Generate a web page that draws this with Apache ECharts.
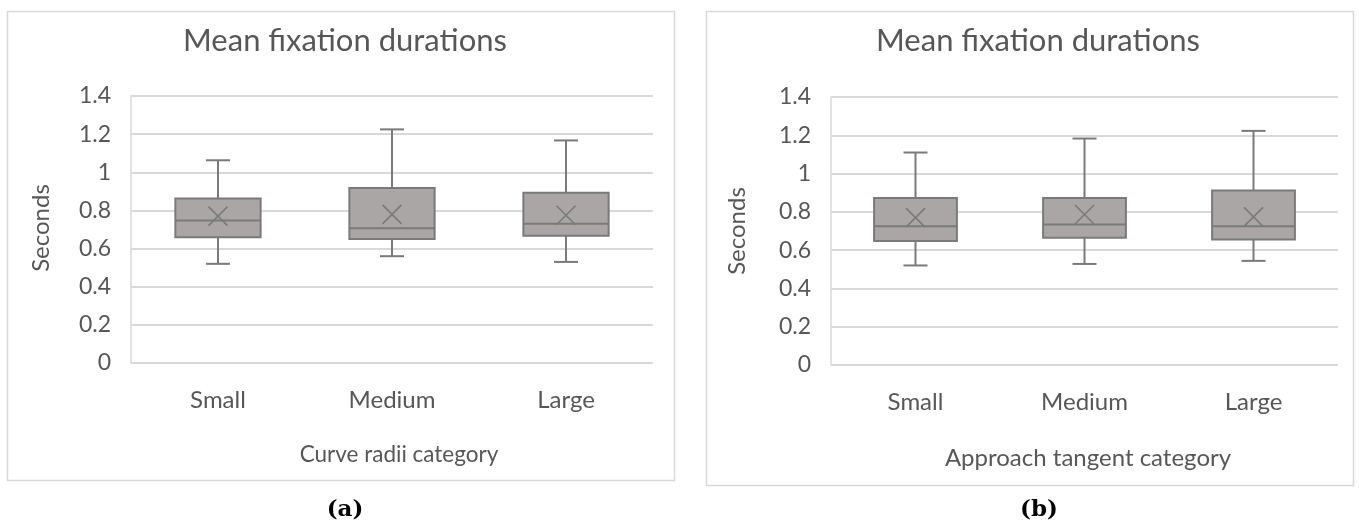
<!DOCTYPE html>
<html>
<head>
<meta charset="utf-8">
<script src="https://cdn.jsdelivr.net/npm/echarts@6/dist/echarts.min.js"></script>
<style>
html,body{margin:0;padding:0;background:#fff;}
#chart{width:1359px;height:527px;}
</style>
</head>
<body>
<div id="chart"></div>
<script>
// ---- data ----
var categories = ['Small', 'Medium', 'Large'];

var radiiMin    = [0.520, 0.560, 0.530];
var radiiQ1     = [0.660, 0.650, 0.667];
var radiiMedian = [0.747, 0.707, 0.730];
var radiiQ3     = [0.863, 0.917, 0.893];
var radiiMax    = [1.063, 1.225, 1.167];
var radiiMean   = [0.770, 0.779, 0.775];

var tangentMin    = [0.520, 0.528, 0.544];
var tangentQ1     = [0.648, 0.665, 0.656];
var tangentMedian = [0.725, 0.734, 0.725];
var tangentQ3     = [0.872, 0.872, 0.912];
var tangentMax    = [1.110, 1.183, 1.223];
var tangentMean   = [0.770, 0.786, 0.774];

var yMin = 0, yMax = 1.4, yInterval = 0.2;
var chartTitles = ['Mean fixation durations', 'Mean fixation durations'];
var xAxisNames = ['Curve radii category', 'Approach tangent category'];
var yAxisName = 'Seconds';
var captions = ['a', 'b'];

// ---- build ----
function rows(mn, q1, md, q3, mx, mean) {
  return categories.map(function (c, i) {
    return [i, mn[i], q1[i], md[i], q3[i], mx[i], mean[i]];
  });
}
var dataA = rows(radiiMin, radiiQ1, radiiMedian, radiiQ3, radiiMax, radiiMean);
var dataB = rows(tangentMin, tangentQ1, tangentMedian, tangentQ3, tangentMax, tangentMean);

var TEXT = '#575757';
var GRID = '#d9d9d9';
var BOX_FILL = '#aba6a6';
var BOX_LINE = '#7a7a7a';
var FONT = 'Lato';

function renderBox(params, api) {
  var x = api.value(0);
  var band = api.size([1, 0])[0];
  var bw = band * 0.49;
  var cap = 24;
  var pMin = api.coord([x, api.value(1)]);
  var pQ1 = api.coord([x, api.value(2)]);
  var pMd = api.coord([x, api.value(3)]);
  var pQ3 = api.coord([x, api.value(4)]);
  var pMax = api.coord([x, api.value(5)]);
  var pMean = api.coord([x, api.value(6)]);
  var cx = pMd[0];
  var ls = {stroke: BOX_LINE, lineWidth: 2};
  var h = 9.5;
  return {
    type: 'group',
    children: [
      {type: 'line', shape: {x1: cx, y1: pMax[1], x2: cx, y2: pQ3[1]}, style: ls},
      {type: 'line', shape: {x1: cx - cap / 2, y1: pMax[1], x2: cx + cap / 2, y2: pMax[1]}, style: ls},
      {type: 'line', shape: {x1: cx, y1: pQ1[1], x2: cx, y2: pMin[1]}, style: ls},
      {type: 'line', shape: {x1: cx - cap / 2, y1: pMin[1], x2: cx + cap / 2, y2: pMin[1]}, style: ls},
      {type: 'rect', shape: {x: cx - bw / 2, y: pQ3[1], width: bw, height: pQ1[1] - pQ3[1]},
        style: {fill: BOX_FILL, stroke: BOX_LINE, lineWidth: 2}},
      {type: 'line', shape: {x1: cx - bw / 2, y1: pMd[1], x2: cx + bw / 2, y2: pMd[1]}, style: ls},
      {type: 'line', shape: {x1: cx - h, y1: pMean[1] - h, x2: cx + h, y2: pMean[1] + h}, style: {stroke: BOX_LINE, lineWidth: 1.6}},
      {type: 'line', shape: {x1: cx - h, y1: pMean[1] + h, x2: cx + h, y2: pMean[1] - h}, style: {stroke: BOX_LINE, lineWidth: 1.6}}
    ]
  };
}

var grids = [
  {left: 131, top: 96, width: 522, height: 267},
  {left: 831, top: 97, width: 507, height: 268}
];

function xAxis(i) {
  return {
    type: 'category', gridIndex: i, data: categories,
    axisLine: {show: false}, axisTick: {show: false},
    axisLabel: {color: TEXT, fontFamily: FONT, fontSize: 24, margin: 25},
    splitLine: {show: false}
  };
}
function yAxis(i) {
  return {
    type: 'value', gridIndex: i, min: yMin, max: yMax, interval: yInterval,
    axisLine: {show: true, lineStyle: {color: GRID, width: 1.5}},
    axisTick: {show: false},
    axisLabel: {color: TEXT, fontFamily: FONT, fontSize: 23, margin: 20},
    splitLine: {show: true, lineStyle: {color: GRID, width: 2}}
  };
}

var capRich = {
  p: {fontFamily: 'DejaVu Serif', fontSize: 23, color: '#000'},
  b: {fontFamily: 'DejaVu Serif', fontSize: 23, fontWeight: 'bold', color: '#000'}
};

var option = {
  backgroundColor: '#ffffff',
  animation: false,
  textStyle: {fontFamily: FONT},
  grid: grids,
  xAxis: [xAxis(0), xAxis(1)],
  yAxis: [yAxis(0), yAxis(1)],
  title: [
    {text: chartTitles[0], left: 340, top: 20, textAlign: 'center',
      textStyle: {color: TEXT, fontFamily: FONT, fontSize: 31, fontWeight: 'normal'}},
    {text: chartTitles[1], left: 1033, top: 20, textAlign: 'center',
      textStyle: {color: TEXT, fontFamily: FONT, fontSize: 31, fontWeight: 'normal'}},
    {text: xAxisNames[0], left: 394, top: 438, textAlign: 'center',
      textStyle: {color: TEXT, fontFamily: FONT, fontSize: 22.5, fontWeight: 'normal'}},
    {text: xAxisNames[1], left: 1083, top: 441, textAlign: 'center',
      textStyle: {color: TEXT, fontFamily: FONT, fontSize: 24, fontWeight: 'normal'}},
    {text: '{p|(}{b|' + captions[0] + '}{p|)}', left: 340, top: 494, textAlign: 'center',
      textStyle: {rich: capRich}},
    {text: '{p|(}{b|' + captions[1] + '}{p|)}', left: 1034, top: 494, textAlign: 'center',
      textStyle: {rich: capRich}}
  ],
  graphic: [
    {type: 'rect', shape: {x: 7.5, y: 11.5, width: 667, height: 469}, style: {fill: 'none', stroke: '#d9d9d9', lineWidth: 1.5}, z: -1},
    {type: 'rect', shape: {x: 706.5, y: 11.5, width: 647, height: 474}, style: {fill: 'none', stroke: '#d9d9d9', lineWidth: 1.5}, z: -1},
    {type: 'text', x: 41, y: 228, rotation: Math.PI / 2, style: {text: yAxisName, fill: TEXT, font: '24px Lato', textAlign: 'center', textVerticalAlign: 'middle'}},
    {type: 'text', x: 737, y: 231, rotation: Math.PI / 2, style: {text: yAxisName, fill: TEXT, font: '24px Lato', textAlign: 'center', textVerticalAlign: 'middle'}}
  ],
  series: [
    {type: 'custom', xAxisIndex: 0, yAxisIndex: 0, renderItem: renderBox, data: dataA,
      encode: {x: 0, y: [1, 2, 3, 4, 5, 6]}},
    {type: 'custom', xAxisIndex: 1, yAxisIndex: 1, renderItem: renderBox, data: dataB,
      encode: {x: 0, y: [1, 2, 3, 4, 5, 6]}}
  ]
};

var chart = echarts.init(document.getElementById('chart'), null, {renderer: 'canvas'});
chart.setOption(option);
</script>
</body>
</html>
